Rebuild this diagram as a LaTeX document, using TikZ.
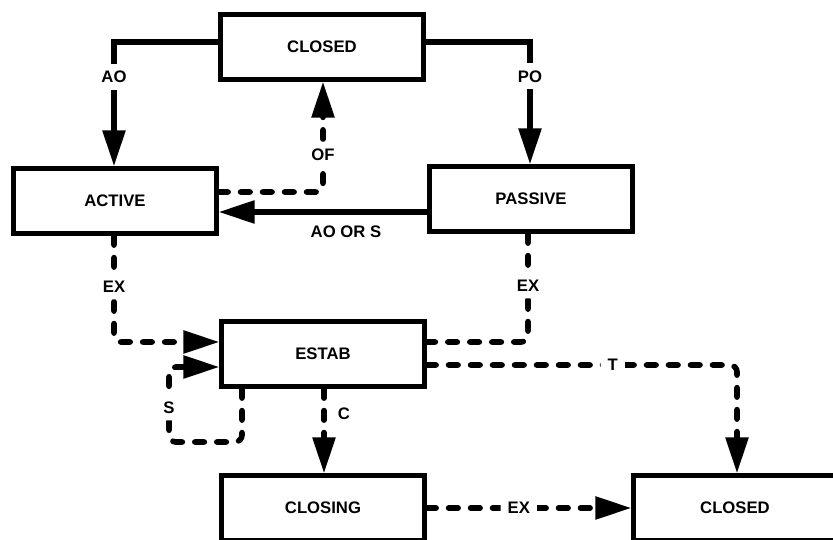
\documentclass[tikz,border=0pt]{standalone}
\usepackage{fontspec}
\setsansfont{Liberation Sans}
\usetikzlibrary{arrows.meta}

\begin{document}
\begin{tikzpicture}[x=0.02cm, y=-0.02cm,
    font=\sffamily\bfseries\fontsize{9.5}{11}\selectfont,
    state/.style={draw, line width=2.4pt, minimum width=4.06cm, minimum height=1.3cm},
    trans/.style={line width=3pt, -{Triangle[length=0.72cm, width=0.44cm]}},
    dline/.style={line width=3.2pt, line cap=round, rounded corners=4pt, dash pattern=on 0.19cm off 0.25cm},
    dtrans/.style={dline, -{Triangle[length=0.72cm, width=0.44cm]}},
    lbl/.style={fill=white, inner xsep=2.5pt, inner ysep=4pt}]
            \useasboundingbox (0,0) rectangle (833,540);
            % states
            \node[state] (closed) at (322,47) {CLOSED};
            \node[state] (active) at (115,201) {ACTIVE};
            \node[state] (passive) at (531,199) {PASSIVE};
            \node[state] (estab) at (323,354) {ESTAB};
            \node[state] (closing) at (323,508) {CLOSING};
            \node[state] (closedb) at (735,508) {CLOSED};
            % solid transitions
            \draw[trans] (closed.west |- 0,42) -| node[lbl, pos=0.64] {AO} (active.north -| 114,0);
            \draw[trans] (closed.east |- 0,42) -| node[lbl, pos=0.64] {PO} (passive.north -| 530,0);
            \draw[trans] (passive.west |- 0,212) -- node[below=3pt, pos=0.39] {AO OR S} (active.east |- 0,212);
            % dashed transitions
            \coordinate (ofc) at (323,192);
            \draw[dtrans] (active.east |- ofc) -- (ofc) -- node[lbl, pos=0.34] {OF} (ofc |- closed.south);
            \draw[dtrans] (active.south -| 114,0) |- node[lbl, pos=0.24] {EX} (estab.west |- 0,342);
            \draw[dline] (passive.south -| 528,0) |- node[lbl, pos=0.24] {EX} (estab.east |- 0,342);
            \draw[dtrans] (estab.east |- 0,365) -| node[lbl, inner xsep=4pt, pos=0.3] {T} (closedb.north -| 737,0);
            \draw[dtrans] (estab.south -| 324,0) -- node[right=3pt, pos=0.3] {C} (closing.north -| 324,0);
            \draw[dtrans] (estab.south -| 242,0) |- (169,442) |- node[lbl, pos=0.23] {S} (estab.west |- 0,367);
            \draw[dtrans] (closing.east |- 0,508) -- node[lbl, inner xsep=4pt, pos=0.45] {EX} (closedb.west |- 0,508);
        \end{tikzpicture}
\end{document}
